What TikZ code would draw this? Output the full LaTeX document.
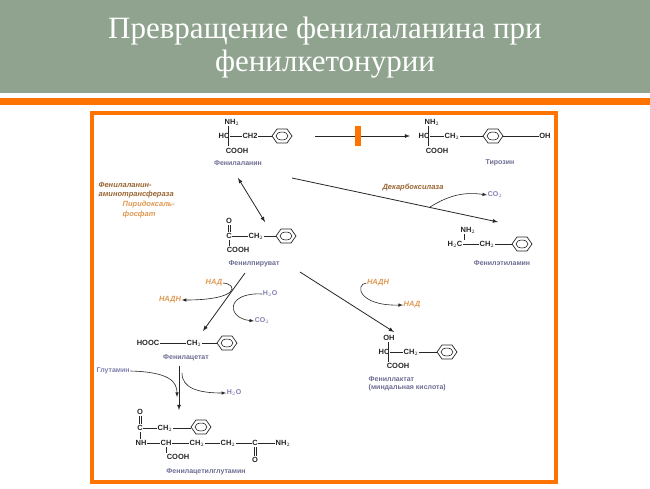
\documentclass[tikz,border=0pt]{standalone}
\usepackage{fontspec}
\setmainfont{Liberation Sans}
\newfontfamily\titlefont{Liberation Serif}
\begin{document}
\begin{tikzpicture}[x=1pt,y=-1pt,
 atm/.style={font=\bfseries\fontsize{7.5}{8}\selectfont,inner sep=0.5pt,text=black!85},
 lbl/.style={font=\bfseries\fontsize{7}{8}\selectfont,text=gray!85!blue,inner sep=0.5pt},
 enz/.style={font=\bfseries\itshape\fontsize{7.5}{8.5}\selectfont,text=brown!80!black,inner sep=0.5pt},
 cof/.style={font=\bfseries\itshape\fontsize{7.5}{8.5}\selectfont,text=brown!60!orange!80!white,inner sep=0.5pt},
 mol/.style={font=\bfseries\fontsize{7}{8}\selectfont,text=blue!25!gray!80,inner sep=0.5pt},
 bd/.style={line width=0.7pt,black!85},
 rx/.style={-latex,line width=0.8pt,black!85},
 cx/.style={-latex,line width=0.6pt,black!85},
 benz/.pic={\draw[bd] (-10,0)--(-5,-7)--(5,-7)--(10,0)--(5,7)--(-5,7)--cycle; \draw[line width=0.5pt] (0,0) ellipse (6 and 4);}]
\useasboundingbox (0,0) rectangle (650,488);
\fill[white] (0,0) rectangle (650,488);
\fill[gray!50!green!20!gray!80] (0,0) rectangle (650,93);
\fill[orange!90!red] (0,98) rectangle (650,105);
\node[text=white,font=\titlefont\fontsize{31}{33}\selectfont,align=center] (title) at (325,48) {Превращение фенилаланина при\\фенилкетонурии};
\draw[orange!90!red,line width=4pt] (92,113) rectangle (556,482);
% Phenylalanine
\node[atm] (pNH) at (232,122) {NH$_2$};
\node[atm] (pHC) at (224,136) {HC};
\node[atm] (pCH) at (250,136) {CH2};
\node[atm] (pCO) at (237,151) {COOH};
\pic at (282,136) {benz};
\coordinate (pR) at (272,136);
\draw[bd] (pHC.east)--(pCH.west) (pCH.east)--(pR) (228,126)--(228,146);
\node[lbl] (pL) at (238,163) {Фенилаланин};
% Tyrosine
\node[atm] (tNH) at (432,122) {NH$_2$};
\node[atm] (tHC) at (424,136) {HC};
\node[atm] (tCH) at (452,136) {CH$_2$};
\pic at (493,136) {benz};
\coordinate (tR) at (483,136); \coordinate (tR2) at (503,136);
\node[atm] (tOH) at (545,136) {OH};
\node[atm] (tCO) at (437,151) {COOH};
\draw[bd] (tHC.east)--(tCH.west) (tCH.east)--(tR) (tR2)--(tOH.west) (428,126)--(428,146);
\node[lbl] (tL) at (500,163) {Тирозин};
\coordinate (a1s) at (315,136); \coordinate (a1e) at (410,136);
\draw[rx] (a1s)--(a1e);
\fill[orange!90!red] (355,126) rectangle (361,146);
% enzyme
\node[enz,anchor=west] (e1) at (98,185) {Фенилаланин-};
\node[enz,anchor=west] (e2) at (98,195) {аминотрансфераза};
\node[cof,anchor=west] (e3) at (122,205) {Пиридоксаль-};
\node[cof,anchor=west] (e4) at (122,215) {фосфат};
\coordinate (d1) at (238,178); \coordinate (d2) at (265,222);
\draw[latex-latex,line width=0.8pt,black!85] (d1)--(d2);
% phenylpyruvate
\node[atm] (yO) at (229,221) {O};
\node[atm] (yC) at (229,236) {C};
\node[atm] (yCH) at (256,236) {CH$_2$};
\pic at (286,236) {benz};
\coordinate (yR) at (276,236);
\node[atm] (yCO) at (238,250) {COOH};
\draw[bd] (yC.east)--(yCH.west) (yCH.east)--(yR);
\draw[bd] (228,225)--(228,232) (230,225)--(230,232) (229,240)--(229,246);
\node[lbl] (yL) at (254,264) {Фенилпируват};
% decarboxylase
\coordinate (b1) at (292,178); \coordinate (b2) at (498,222);
\draw[rx] (b1)--(b2);
\node[enz] (dk) at (413,188) {Декарбоксилаза};
\node[mol] (co1) at (495,195) {CO$_2$};
\draw[cx] (430,207) to[bend left=20] (co1.west);
% phenylethylamine
\node[atm] (eNH) at (468,230) {NH$_2$};
\node[atm] (eHC) at (455,244) {H$_2$C};
\node[atm] (eCH) at (487,244) {CH$_2$};
\pic at (522,244) {benz};
\coordinate (eR) at (512,244);
\draw[bd] (eHC.east)--(eCH.west) (eCH.east)--(eR) (464,234)--(464,240);
\node[lbl] (eL) at (502,263) {Фенилэтиламин};
% to phenylacetate
\coordinate (c1) at (245,273); \coordinate (c2) at (203,331);
\draw[rx] (c1)--(c2);
\node[cof] (n1) at (214,283) {НАД};
\node[cof] (n2) at (170,300) {НАДН};
\draw[cx] (n1.east) .. controls (238,284) and (240,300) .. (n2.east);
\node[mol] (w1) at (270,294) {H$_2$O};
\node[mol] (co2) at (262,321) {CO$_2$};
\draw[cx] (w1.west) .. controls (226,292) and (226,318) .. (co2.west);
% to phenyllactate
\coordinate (f1) at (300,272); \coordinate (f2) at (394,332);
\draw[rx] (f1)--(f2);
\node[cof] (n3) at (378,283) {НАДН};
\node[cof] (n4) at (412,305) {НАД};
\draw[cx] (n3.west) .. controls (355,284) and (358,306) .. (n4.west);
% phenylacetate
\node[atm] (aH) at (148,343) {HOOC};
\node[atm] (aCH) at (194,343) {CH$_2$};
\pic at (227,343) {benz};
\coordinate (aR) at (217,343);
\draw[bd] (aH.east)--(aCH.west) (aCH.east)--(aR);
\node[lbl] (aL) at (186,358) {Фенилацетат};
% glutamine step
\coordinate (g1) at (179,366); \coordinate (g2) at (179,410);
\draw[rx] (g1)--(g2);
\node[mol,anchor=west] (gl) at (96,371) {Глутамин};
\node[mol] (w2) at (234,393) {H$_2$O};
\draw[cx] (gl.east) .. controls (170,372) and (177,382) .. (177,397);
\draw[cx] (182,373) .. controls (182,388) and (198,393) .. (w2.west);
% phenylacetylglutamine
\node[atm] (qO) at (140,412) {O};
\node[atm] (qC) at (140,428) {C};
\node[atm] (qCH) at (165,428) {CH$_2$};
\pic at (201,427) {benz};
\coordinate (qR) at (191,428);
\node[atm] (qNH) at (141,443) {NH};
\node[atm] (qCH1) at (166,443) {CH};
\node[atm] (qCH2) at (197,443) {CH$_2$};
\node[atm] (qCH3) at (228,443) {CH$_2$};
\node[atm] (qC2) at (255,443) {C};
\node[atm] (qNH2) at (283,443) {NH$_2$};
\node[atm] (qCO) at (178,457) {COOH};
\node[atm] (qO2) at (255,460) {O};
\draw[bd] (qC.east)--(qCH.west) (qCH.east)--(qR) (139,416)--(139,424) (141,416)--(141,424) (140,432)--(140,439);
\draw[bd] (qNH.east)--(qCH1.west) (qCH1.east)--(qCH2.west) (qCH2.east)--(qCH3.west) (qCH3.east)--(qC2.west) (qC2.east)--(qNH2.west);
\draw[bd] (166,447)--(166,453) (254,447)--(254,456) (256,447)--(256,456);
\node[lbl] (qL) at (206,472) {Фенилацетилглутамин};
% phenyllactate
\node[atm] (lOH) at (389,338) {OH};
\node[atm] (lHC) at (384,352) {HC};
\node[atm] (lCH) at (411,352) {CH$_2$};
\pic at (447,352) {benz};
\coordinate (lR) at (437,352);
\node[atm] (lCO) at (398,366) {COOH};
\draw[bd] (lHC.east)--(lCH.west) (lCH.east)--(lR) (388,342)--(388,362);
\node[lbl,align=left,anchor=north west] (lL) at (368,376) {Фениллактат\\(миндальная кислота)};
\end{tikzpicture}
\end{document}
